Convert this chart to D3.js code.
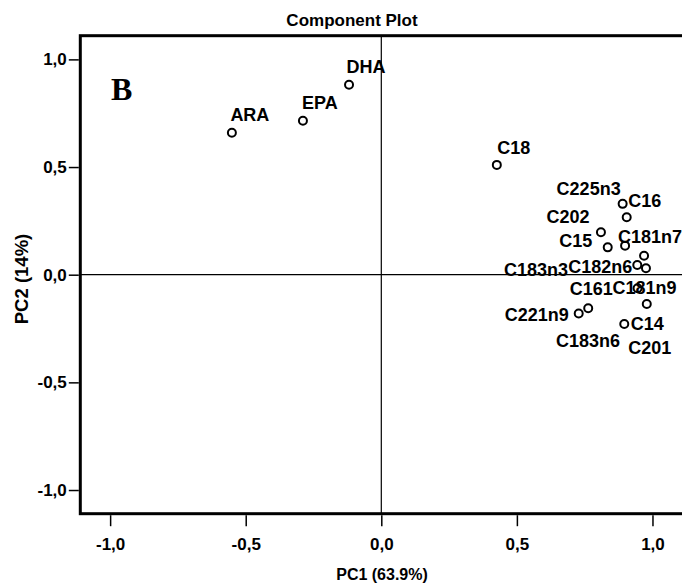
<!DOCTYPE html>
<html>
<head>
<meta charset="utf-8">
<script src="https://cdn.jsdelivr.net/npm/d3@7"></script>
<style>
  body { margin: 0; background: #fff; }
  svg text { font-family: "Liberation Sans", Arial, sans-serif; font-weight: bold; fill: #000; }
</style>
</head>
<body>
<div id="chart"></div>
<script>
// Component loadings
var varNames = ["ARA", "EPA", "DHA", "C18", "C225n3", "C16", "C202", "C15", "C181n7",
  "C183n3", "C182n6", "C183n6", "C181n9", "C201", "C221n9", "C161", "C14"];
var pc1 = [-0.551, -0.289, -0.119, 0.426, 0.890, 0.905, 0.810, 0.835, 0.899,
  0.969, 0.944, 0.976, 0.945, 0.979, 0.728, 0.763, 0.896];
var pc2 = [0.659, 0.715, 0.882, 0.510, 0.329, 0.267, 0.197, 0.127, 0.135,
  0.088, 0.045, 0.030, -0.063, -0.136, -0.180, -0.156, -0.229];
var tickVals = [-1.0, -0.5, 0.0, 0.5, 1.0];

// where each label sits relative to its point (pixels, label centre)
var labelOffsets = [[18, -18], [17, -18], [17, -18], [17, -17], [-34, -15], [18, -17],
  [-33, -16], [-32, -7], [25, -9], [-108, 14], [-37, 1], [-58, 72], [7, -1],
  [3, 44], [-42, 1], [3, -20], [23, -1]];

var svgWidth = 682;
var svgHeight = 585;

var svg = d3.select("#chart")
  .append("svg")
  .attr("width", svgWidth)
  .attr("height", svgHeight);

// frame: left 80, top 36, bottom 514, right runs off the picture
var xScale = d3.scaleLinear()
  .domain([-1.11, 1.11])
  .range([80.3, 682.3]);
var yScale = d3.scaleLinear()
  .domain([-1.11, 1.11])
  .range([513.7, 35.7]);

// SPSS style: comma decimals, plain hyphen for minus
var fmt = function(d) { return d3.format(".1f")(d).replace(".", ",").replace("\u2212", "-"); };

// zero lines
svg.append("line")
  .attr("x1", xScale(0)).attr("x2", xScale(0))
  .attr("y1", yScale(1.11)).attr("y2", yScale(-1.11))
  .attr("stroke", "#000").attr("stroke-width", 1.2);
svg.append("line")
  .attr("x1", xScale(-1.11)).attr("x2", xScale(1.11))
  .attr("y1", yScale(0)).attr("y2", yScale(0))
  .attr("stroke", "#000").attr("stroke-width", 1.2);

// frame
svg.append("rect")
  .attr("x", xScale(-1.11))
  .attr("y", yScale(1.11))
  .attr("width", xScale(1.11) - xScale(-1.11) + 2)
  .attr("height", yScale(-1.11) - yScale(1.11))
  .attr("fill", "none")
  .attr("stroke", "#000")
  .attr("stroke-width", 3);

// axes
var bottomAxis = d3.axisBottom(xScale).tickValues(tickVals).tickFormat(fmt)
  .tickSize(11).tickPadding(12);
var leftAxis = d3.axisLeft(yScale).tickValues(tickVals).tickFormat(fmt)
  .tickSize(10).tickPadding(2);

var gx = svg.append("g")
  .attr("transform", `translate(0, ${yScale(-1.11) + 1.5})`)
  .call(bottomAxis);
var gy = svg.append("g")
  .attr("transform", `translate(${xScale(-1.11) - 1.5}, 0)`)
  .call(leftAxis);

[gx, gy].forEach(function(g) {
  g.select(".domain").remove();
  g.selectAll(".tick line").attr("stroke", "#000").attr("stroke-width", 1.5);
  g.selectAll(".tick text")
    .attr("fill", "#000")
    .style("font-size", "17px")
    .style("font-family", "'Liberation Sans', Arial, sans-serif")
    .style("font-weight", "bold");
});

// points
svg.selectAll("circle.pt")
  .data(varNames)
  .enter()
  .append("circle")
  .attr("class", "pt")
  .attr("cx", (d, i) => xScale(pc1[i]))
  .attr("cy", (d, i) => yScale(pc2[i]))
  .attr("r", 4)
  .attr("fill", "none")
  .attr("stroke", "#000")
  .attr("stroke-width", 2);

// point labels
svg.selectAll("text.lbl")
  .data(varNames)
  .enter()
  .append("text")
  .attr("class", "lbl")
  .attr("x", (d, i) => xScale(pc1[i]) + labelOffsets[i][0])
  .attr("y", (d, i) => yScale(pc2[i]) + labelOffsets[i][1] + 6.5)
  .attr("text-anchor", "middle")
  .style("font-size", "18px")
  .text(d => d);

// titles
svg.append("text")
  .attr("x", 352)
  .attr("y", 26)
  .attr("text-anchor", "middle")
  .style("font-size", "17px")
  .text("Component Plot");

svg.append("text")
  .attr("x", 382)
  .attr("y", 580)
  .attr("text-anchor", "middle")
  .style("font-size", "16px")
  .text("PC1 (63.9%)");

svg.append("text")
  .attr("transform", "translate(28, 279) rotate(-90)")
  .attr("text-anchor", "middle")
  .style("font-size", "18.5px")
  .text("PC2 (14%)");

// panel letter
svg.append("text")
  .attr("x", 111)
  .attr("y", 100)
  .style("font-family", "'Liberation Serif', 'Times New Roman', serif")
  .style("font-size", "32px")
  .text("B");
</script>
</body>
</html>
